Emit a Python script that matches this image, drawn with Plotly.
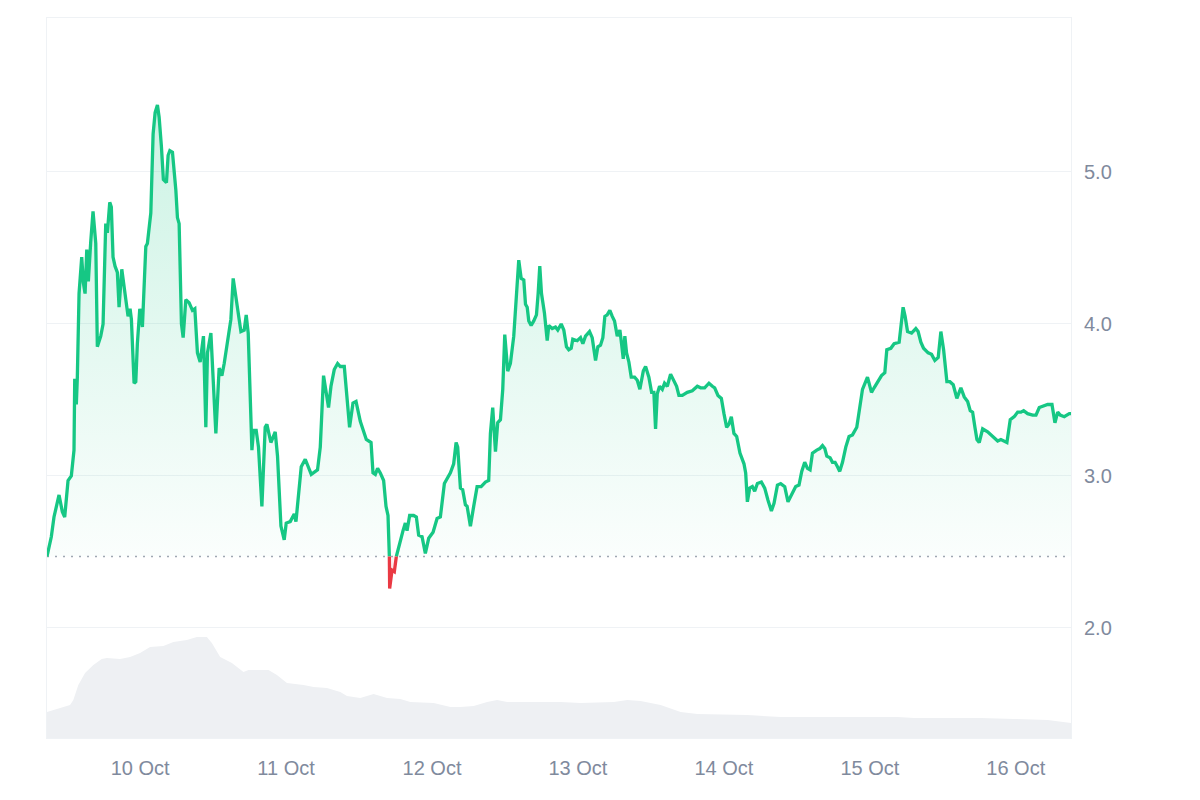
import pandas as pd
import plotly.graph_objects as go

# ---------------- data ----------------
START = "2024-10-09 08:41"
END_HOURS = 168.4

price_hours = [
    0.0, 0.71, 1.15, 1.98, 2.52, 2.91, 3.46, 4.00, 4.44, 4.56, 4.82, 4.99, 5.27, 5.71, 5.98,
    6.26, 6.54, 6.80, 7.19, 7.57, 8.02, 8.28, 8.84, 9.22, 9.66, 9.93, 10.32, 10.58, 10.86,
    11.19, 11.57, 11.85, 12.30, 12.95, 13.33, 13.66, 13.88, 14.32, 14.60, 14.86, 15.26, 15.69,
    16.25, 16.51, 16.91, 17.07, 17.45, 17.78, 18.16, 18.44, 18.81, 19.14, 19.64, 19.92, 20.20,
    20.63, 21.19, 21.45, 21.73, 22.11, 22.39, 22.83, 23.37, 23.92, 24.31, 24.74, 25.19, 25.73,
    26.12, 26.39, 26.95, 27.33, 27.77, 28.31, 28.76, 29.14, 29.96, 30.24, 30.62, 30.90, 31.23,
    31.89, 32.43, 32.76, 33.09, 33.70, 33.96, 34.40, 34.78, 35.34, 35.88, 36.16, 36.82, 37.53,
    37.91, 38.47, 39.01, 39.34, 40.00, 40.66, 40.94, 41.37, 41.81, 42.47, 43.46, 44.49, 44.94,
    45.48, 46.30, 46.70, 47.24, 47.79, 48.23, 48.89, 49.33, 49.76, 50.32, 50.82, 51.52, 52.18,
    52.51, 53.29, 53.61, 53.99, 54.37, 54.81, 55.36, 55.75, 56.08, 56.30, 56.35, 56.74, 57.12,
    57.45, 57.99, 58.55, 58.93, 59.21, 59.64, 60.30, 60.74, 61.12, 61.68, 62.22, 62.77, 63.49,
    64.15, 64.69, 65.35, 65.80, 66.34, 66.88, 67.28, 67.54, 67.99, 68.36, 68.81, 69.09, 69.63,
    70.17, 70.73, 71.39, 72.10, 72.64, 72.92, 73.30, 73.75, 74.12, 74.57, 74.95, 75.28, 75.77,
    76.21, 76.76, 77.20, 77.58, 77.98, 78.41, 78.69, 78.97, 79.23, 79.62, 80.05, 80.49, 80.77,
    81.04, 81.32, 81.81, 82.26, 82.52, 83.08, 83.62, 84.00, 84.56, 84.99, 85.43, 85.81, 86.21,
    86.47, 87.19, 87.74, 88.12, 88.56, 88.84, 89.22, 89.66, 89.93, 90.21, 90.59, 91.03, 91.41,
    91.74, 92.13, 92.56, 92.96, 93.33, 93.78, 94.21, 94.49, 94.77, 95.03, 95.31, 95.69, 96.08,
    96.63, 97.07, 97.50, 98.06, 98.44, 98.98, 99.43, 99.80, 100.08, 100.36, 100.74, 101.19,
    101.56, 102.01, 102.55, 103.09, 103.54, 103.92, 104.48, 105.30, 106.12, 106.95, 107.49,
    108.15, 108.86, 109.42, 109.80, 110.34, 110.90, 111.33, 111.77, 112.15, 112.54, 112.97,
    113.42, 113.96, 114.62, 114.90, 115.18, 115.56, 116.00, 116.38, 116.83, 117.48, 118.03,
    118.57, 119.13, 119.56, 120.12, 120.66, 121.32, 121.86, 122.58, 123.13, 123.67, 124.12,
    124.61, 125.06, 125.49, 125.88, 126.59, 127.09, 127.53, 127.91, 128.24, 128.78, 129.17,
    129.60, 130.00, 130.37, 130.82, 131.36, 131.90, 132.46, 133.17, 133.55, 134.11, 134.93,
    135.59, 136.02, 136.58, 137.24, 137.78, 138.11, 138.77, 139.31, 140.14, 140.41, 140.79,
    141.12, 141.52, 142.18, 142.88, 143.26, 143.71, 144.15, 144.91, 145.47, 146.01, 146.56,
    147.00, 147.45, 147.99, 148.48, 149.03, 149.63, 150.29, 150.84, 151.40, 151.83, 152.22,
    152.60, 152.93, 153.31, 153.87, 154.69, 155.52, 156.34, 156.87, 157.32, 157.86, 158.41,
    159.07, 159.63, 160.17, 160.61, 161.27, 162.09, 162.64, 163.18, 163.90, 164.56, 165.27,
    165.76, 166.21, 166.63, 167.29, 168.12, 168.40,
]

price_values = [
    2.47, 2.60, 2.73, 2.875, 2.765, 2.73, 2.97, 3.00, 3.17, 3.64, 3.47, 3.65, 4.20, 4.44, 4.27,
    4.20, 4.49, 4.28, 4.54, 4.74, 4.53, 3.85, 3.92, 4.00, 4.66, 4.60, 4.80, 4.77, 4.44,
    4.38, 4.34, 4.11, 4.36, 4.14, 4.05, 4.10, 4.03, 3.61, 3.62, 3.87, 4.10, 3.98,
    4.51, 4.53, 4.68, 4.73, 5.25, 5.39, 5.44, 5.36, 5.17, 4.95, 4.93, 5.11, 5.14,
    5.13, 4.88, 4.70, 4.66, 4.00, 3.91, 4.16, 4.14, 4.09, 4.10, 3.81, 3.75, 3.92,
    3.32, 3.81, 3.94, 3.63, 3.28, 3.71, 3.66, 3.74, 3.96, 4.03, 4.30, 4.22, 4.11,
    3.95, 3.96, 4.06, 3.94, 3.17, 3.30, 3.30, 3.19, 2.80, 3.32, 3.34, 3.22, 3.29,
    3.13, 2.67, 2.58, 2.69, 2.70, 2.75, 2.70, 2.86, 3.06, 3.11, 3.01, 3.04, 3.19,
    3.66, 3.45, 3.59, 3.70, 3.74, 3.72, 3.72, 3.52, 3.32, 3.48, 3.49, 3.36, 3.28,
    3.24, 3.22, 3.02, 3.01, 3.05, 3.02, 2.97, 2.80, 2.74, 2.47, 2.26, 2.38, 2.37,
    2.47, 2.56, 2.64, 2.69, 2.64, 2.74, 2.74, 2.73, 2.61, 2.60, 2.49, 2.59, 2.63,
    2.72, 2.73, 2.95, 2.98, 3.02, 3.08, 3.22, 3.19, 2.92, 2.91, 2.81, 2.80, 2.67,
    2.80, 2.93, 2.93, 2.96, 2.97, 3.28, 3.45, 3.16, 3.35, 3.37, 3.57, 3.93, 3.69,
    3.74, 3.92, 4.16, 4.42, 4.30, 4.29, 4.13, 4.11, 4.02, 3.99, 4.02, 4.06, 4.20,
    4.38, 4.20, 4.07, 3.89, 3.99, 3.97, 3.98, 3.96, 4.00, 3.96, 3.85, 3.83, 3.84,
    3.90, 3.89, 3.91, 3.87, 3.92, 3.93, 3.95, 3.91, 3.83, 3.76, 3.85, 3.86, 3.91,
    4.05, 4.06, 4.09, 4.05, 4.02, 3.92, 3.96, 3.87, 3.77, 3.92, 3.81, 3.75, 3.65,
    3.65, 3.63, 3.57, 3.69, 3.72, 3.65, 3.55, 3.55, 3.31, 3.54, 3.59, 3.57,
    3.61, 3.59, 3.67, 3.63, 3.59, 3.53, 3.53, 3.55, 3.56, 3.59, 3.58,
    3.58, 3.61, 3.59, 3.58, 3.53, 3.51, 3.41, 3.32, 3.34, 3.39, 3.28,
    3.26, 3.15, 3.08, 3.02, 2.83, 2.92, 2.93, 2.90, 2.95, 2.96, 2.92,
    2.84, 2.77, 2.82, 2.94, 2.95, 2.93, 2.83, 2.89, 2.93, 2.94, 3.03,
    3.09, 3.05, 3.04, 3.15, 3.17, 3.18, 3.20, 3.18, 3.13, 3.12, 3.09,
    3.09, 3.06, 3.03, 3.09, 3.19, 3.26, 3.27, 3.32, 3.41, 3.57, 3.65,
    3.55, 3.58, 3.62, 3.66, 3.68, 3.83, 3.84, 3.87, 3.88, 4.00, 4.11,
    4.05, 3.95, 3.94, 3.97, 3.95, 3.88, 3.84, 3.81, 3.80, 3.76, 3.78,
    3.95, 3.83, 3.62, 3.62, 3.60, 3.51, 3.58, 3.52, 3.49, 3.43, 3.42,
    3.32, 3.24, 3.22, 3.31, 3.29, 3.26, 3.23, 3.24, 3.23, 3.22, 3.37,
    3.39, 3.42, 3.42, 3.43, 3.41, 3.40, 3.40, 3.45, 3.46, 3.47, 3.47,
    3.35, 3.42, 3.40, 3.39, 3.41, 3.41,
]

volume_hours = [
    0.0, 2.14, 3.79, 4.33, 5.15, 6.26, 7.62, 9.00, 9.83, 12.02, 13.66, 15.31, 16.95, 19.14,
    20.79, 23.0, 24.64, 26.29, 27.11, 28.48, 30.40, 32.31, 33.14, 36.43, 37.81, 39.46, 42.19,
    43.84, 46.04, 48.23, 49.33, 51.52, 53.71, 55.92, 58.11, 59.75, 63.59, 66.34, 67.99, 70.17,
    72.38, 74.02, 75.67, 84.45, 87.74, 93.22, 95.43, 97.62, 100.91, 104.2, 106.95, 115.18,
    120.66, 126.14, 131.64, 139.87, 142.6, 148.1, 153.58, 159.06, 164.56, 168.4,
]
volume_values = [
    26, 30, 33, 38, 53, 65, 73, 79, 80, 79, 81, 85, 91, 92,
    96, 98, 101, 101, 95, 81, 75, 66, 68, 68, 63, 55, 53,
    51, 50, 46, 42, 40, 44, 40, 39, 36, 35, 31, 31, 32,
    36, 38, 36, 36, 35, 36, 38, 37, 33, 26, 24, 23,
    21, 21, 21, 21, 20, 20, 20, 19, 18, 15,
]

y_ticks = [2.0, 3.0, 4.0, 5.0]
y_tick_text = ["2.0", "3.0", "4.0", "5.0"]

# ---------------- styling ----------------
GREEN = "#16c784"
RED = "#ea3943"
GRID = "#eff2f5"
TEXT = "#808a9d"
VOL = "#eef0f3"

start = pd.Timestamp(START)
t_price = start + pd.to_timedelta(price_hours, unit="h")
t_vol = start + pd.to_timedelta(volume_hours, unit="h")
t_end = start + pd.Timedelta(hours=END_HOURS)

base = price_values[0]
green_fill = [max(p, base) for p in price_values]
red_fill = [min(p, base) for p in price_values]
green_line = [p if p >= base else None for p in price_values]
red_line = [p if p <= base else None for p in price_values]

fig = go.Figure()

# volume
fig.add_trace(go.Scatter(
    x=t_vol, y=volume_values, yaxis="y2", mode="lines",
    line=dict(width=0, color=VOL), fill="tozeroy", fillcolor=VOL,
    hoverinfo="skip", showlegend=False,
))

# green area to baseline
fig.add_trace(go.Scatter(x=t_price, y=[base] * len(t_price), mode="lines",
                         line=dict(width=0), hoverinfo="skip", showlegend=False))
fig.add_trace(go.Scatter(
    x=t_price, y=green_fill, mode="lines", line=dict(width=0), fill="tonexty",
    fillgradient=dict(type="vertical",
                      colorscale=[[0, "rgba(22,199,132,0.02)"], [1, "rgba(22,199,132,0.22)"]]),
    hoverinfo="skip", showlegend=False,
))
# red area to baseline
fig.add_trace(go.Scatter(x=t_price, y=[base] * len(t_price), mode="lines",
                         line=dict(width=0), hoverinfo="skip", showlegend=False))
fig.add_trace(go.Scatter(
    x=t_price, y=red_fill, mode="lines", line=dict(width=0), fill="tonexty",
    fillgradient=dict(type="vertical",
                      colorscale=[[0, "rgba(234,57,67,0.25)"], [1, "rgba(234,57,67,0.05)"]]),
    hoverinfo="skip", showlegend=False,
))

# lines
fig.add_trace(go.Scatter(x=t_price, y=green_line, mode="lines",
                         line=dict(color=GREEN, width=3.3), connectgaps=False,
                         hoverinfo="skip", showlegend=False))
fig.add_trace(go.Scatter(x=t_price, y=red_line, mode="lines",
                         line=dict(color=RED, width=3.3), connectgaps=False,
                         hoverinfo="skip", showlegend=False))

# dotted baseline
fig.add_shape(type="line", xref="paper", x0=0, x1=1, yref="y", y0=base, y1=base,
              line=dict(color="#a1a7b3", width=1.6, dash="2px,6px"), layer="below")

fig.update_layout(
    width=1200, height=800,
    margin=dict(l=47, r=129, t=18, b=62),
    paper_bgcolor="white", plot_bgcolor="white",
    font=dict(family="Liberation Sans, Arial, sans-serif", color=TEXT, size=20),
    showlegend=False,
    hovermode=False,
    xaxis=dict(
        type="date", range=[start, t_end],
        tickformat="%-d %b", dtick=86400000, tick0="2024-10-10",
        showgrid=False, zeroline=False,
        showline=True, linecolor=GRID, linewidth=1, mirror=True,
        ticks="outside", ticklen=12, tickcolor="rgba(0,0,0,0)",
        tickfont=dict(size=20, color=TEXT),
    ),
    yaxis=dict(
        side="right", range=[1.276, 6.013],
        tickvals=y_ticks, ticktext=y_tick_text,
        showgrid=True, gridcolor=GRID, gridwidth=1, zeroline=False,
        showline=True, linecolor=GRID, linewidth=1, mirror=True,
        ticks="outside", ticklen=8, tickcolor="rgba(0,0,0,0)",
        tickfont=dict(size=20, color=TEXT),
    ),
    yaxis2=dict(overlaying="y", range=[0, 720], visible=False, fixedrange=True),
)

fig.write_html("out.html", config={"displayModeBar": False})
